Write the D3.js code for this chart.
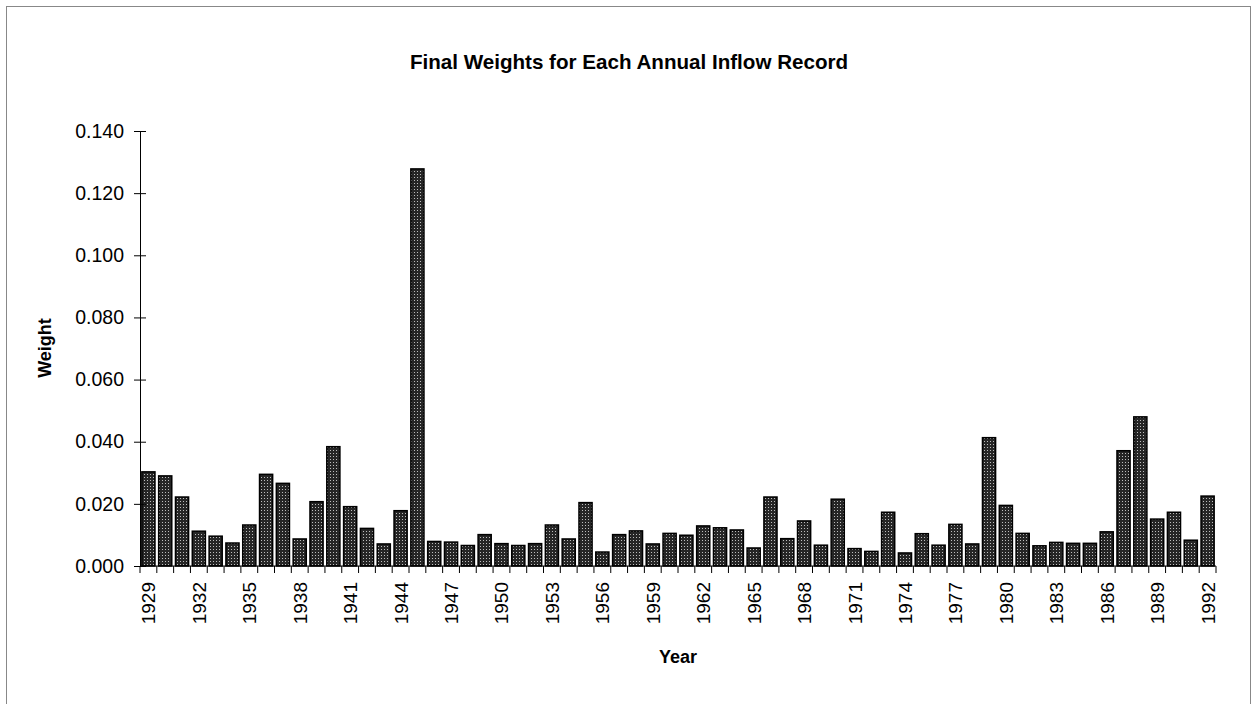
<!DOCTYPE html>
<html>
<head>
<meta charset="utf-8">
<script src="https://cdn.jsdelivr.net/npm/d3@7"></script>
<style>
  body { margin: 0; background: #fff; }
  text { font-family: "Liberation Sans", Arial, Helvetica, sans-serif; fill: #000; }
</style>
</head>
<body>
<div id="chart"></div>
<script>
// data
const years = d3.range(1929, 1993);
const weights = [
  0.0303, 0.0290, 0.0222, 0.0112, 0.0096, 0.0074, 0.0132, 0.0295, 0.0266, 0.0087,
  0.0207, 0.0384, 0.0191, 0.0121, 0.0071, 0.0178, 0.1278, 0.0079, 0.0077, 0.0066,
  0.0101, 0.0072, 0.0066, 0.0072, 0.0132, 0.0087, 0.0204, 0.0045, 0.0101, 0.0113,
  0.0071, 0.0105, 0.0099, 0.0129, 0.0123, 0.0116, 0.0058, 0.0222, 0.0088, 0.0145,
  0.0067, 0.0215, 0.0056, 0.0047, 0.0173, 0.0042, 0.0104, 0.0067, 0.0134, 0.0071,
  0.0413, 0.0195, 0.0105, 0.0065, 0.0076, 0.0073, 0.0073, 0.0110, 0.0371, 0.0480,
  0.0151, 0.0173, 0.0083, 0.0225
];
const yTicks = [0, 0.02, 0.04, 0.06, 0.08, 0.10, 0.12, 0.14];
const labelYears = years.filter((d, i) => i % 3 === 0);

const W = 1256, H = 704;
const margin = { top: 131, right: 40, bottom: 138, left: 140 };
const width = 1216 - margin.left;
const height = 566 - margin.top;

const svg = d3.select('#chart')
  .append('svg')
    .attr('width', W)
    .attr('height', H);

// dotted fill like the printed original
const defs = svg.append('defs');
const pat = defs.append('pattern')
    .attr('id', 'dots')
    .attr('width', 3)
    .attr('height', 3)
    .attr('patternUnits', 'userSpaceOnUse');
pat.append('rect').attr('width', 3).attr('height', 3).attr('fill', '#262626');
pat.append('rect').attr('x', 1).attr('y', 1).attr('width', 1).attr('height', 1).attr('fill', '#bdbdbd');

// outer frame
svg.append('rect')
    .attr('x', 6.5).attr('y', 6.5)
    .attr('width', 1244).attr('height', 700)
    .attr('fill', 'none')
    .attr('stroke', '#888')
    .attr('stroke-width', 1);

const g = svg.append('g')
    .attr('transform', `translate(${margin.left},${margin.top})`);

const x = d3.scaleBand()
    .domain(years)
    .range([0, width])
    .paddingInner(0.22)
    .paddingOuter(0.11);

const y = d3.scaleLinear()
    .domain([0, 0.14])
    .range([height, 0]);

// bars
g.append('g')
  .selectAll('rect')
  .data(years)
  .join('rect')
    .attr('x', d => x(d))
    .attr('y', (d, i) => y(weights[i]))
    .attr('width', x.bandwidth())
    .attr('height', (d, i) => height - y(weights[i]))
    .attr('fill', 'url(#dots)')
    .attr('stroke', '#000')
    .attr('stroke-width', 1.5);

// y axis
const yAxis = g.append('g')
    .call(d3.axisLeft(y).tickValues(yTicks).tickFormat(d3.format('.3f')).tickSize(6).tickPadding(10));
yAxis.select('.domain').attr('stroke', '#000');
yAxis.selectAll('.tick line').attr('x1', -6).attr('x2', 6);
yAxis.selectAll('.tick text').style('font-size', '19.5px');

// x axis: ticks on category boundaries, labels every 3 years
const step = x.step();
const xAxis = g.append('g')
    .attr('transform', `translate(0,${height})`);
xAxis.append('line')
    .attr('x1', 0).attr('x2', width)
    .attr('stroke', '#000');
xAxis.selectAll('line.tk')
  .data(d3.range(years.length + 1))
  .join('line')
    .attr('class', 'tk')
    .attr('x1', i => i * step)
    .attr('x2', i => i * step)
    .attr('y1', 0)
    .attr('y2', 7)
    .attr('stroke', '#000');
xAxis.selectAll('text')
  .data(labelYears)
  .join('text')
    .attr('transform', d => `translate(${x(d) + x.bandwidth() / 2 + 7},16) rotate(-90)`)
    .attr('text-anchor', 'end')
    .style('font-size', '19px')
    .text(d => d);

// title and axis labels
svg.append('text')
    .attr('x', 629)
    .attr('y', 69)
    .attr('text-anchor', 'middle')
    .style('font-size', '20.6px')
    .style('font-weight', 'bold')
    .text('Final Weights for Each Annual Inflow Record');

svg.append('text')
    .attr('transform', 'translate(51,348) rotate(-90)')
    .attr('text-anchor', 'middle')
    .style('font-size', '18px')
    .style('font-weight', 'bold')
    .text('Weight');

svg.append('text')
    .attr('x', 678)
    .attr('y', 663)
    .attr('text-anchor', 'middle')
    .style('font-size', '18px')
    .style('font-weight', 'bold')
    .text('Year');
</script>
</body>
</html>
